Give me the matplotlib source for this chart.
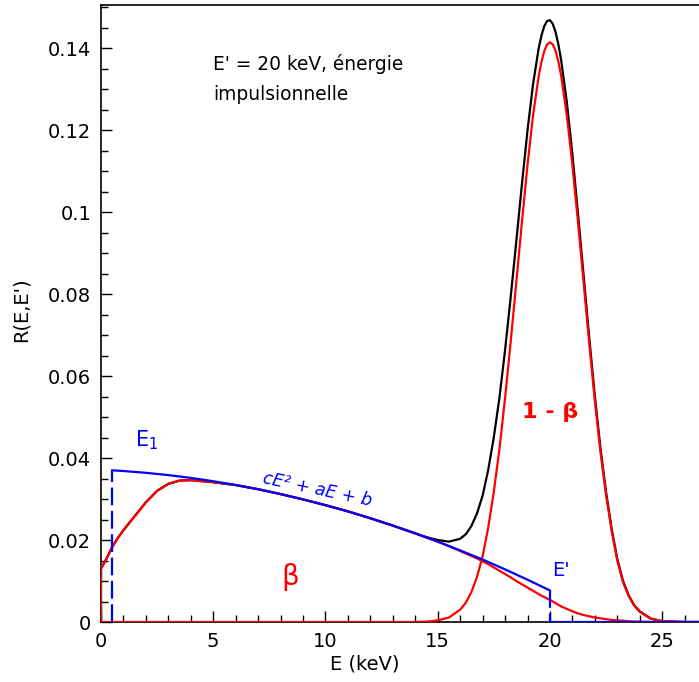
import numpy as np
import matplotlib
matplotlib.use("Agg")
import matplotlib.pyplot as plt
from matplotlib.ticker import MultipleLocator, FuncFormatter

plt.rcParams['font.family'] = ['DejaVu Sans']

# ---- data ----
E = [0, 0, 0.25, 0.5, 0.75, 1, 1.5, 2, 2.5, 3, 3.5, 4,
     5, 6, 7, 8, 9, 10, 11, 12, 13, 14,
     14.5, 15, 15.5, 16,
     16.25, 16.5, 16.75, 17, 17.25, 17.5, 17.75, 18,
     18.25, 18.5, 18.75, 19, 19.25, 19.5, 19.625, 19.75, 19.875, 20,
     20.125, 20.25, 20.375, 20.5, 20.75, 21, 21.25, 21.5, 21.75, 22,
     22.25, 22.5, 22.75, 23, 23.25, 23.5, 23.75, 24,
     24.5, 25, 26, 27]

beta = [0.0, 0.0130, 0.0155, 0.0183, 0.0205, 0.0224, 0.0258, 0.0292, 0.0320, 0.0337, 0.0345, 0.0346,
        0.0341, 0.0334, 0.0324, 0.0312, 0.0299, 0.0285, 0.0270, 0.0253, 0.0235, 0.0216,
        0.0206, 0.0196, 0.0185, 0.0173,
        0.0167, 0.0161, 0.0155, 0.0148, 0.0141, 0.0133, 0.0125, 0.0117,
        0.0109, 0.0100, 0.0092, 0.0084, 0.0076, 0.0068, 0.0064, 0.0061, 0.0057, 0.0054,
        0.0050, 0.0046, 0.0042, 0.0038, 0.0032, 0.0026, 0.0021, 0.0017, 0.0014, 0.0011,
        0.0009, 0.0007, 0.0005, 0.0004, 0.0003, 0.0002, 0.0001, 0.0001,
        0.0, 0.0, 0.0, 0.0]

peak = [0.0, 0.0, 0.0, 0.0, 0.0, 0.0, 0.0, 0.0, 0.0, 0.0, 0.0, 0.0,
        0.0, 0.0, 0.0, 0.0, 0.0, 0.0, 0.0, 0.0, 0.0, 0.0,
        0.0001, 0.0004, 0.0011, 0.0030,
        0.0047, 0.0073, 0.0110, 0.0160, 0.0230, 0.0318, 0.0422, 0.0546,
        0.0683, 0.0828, 0.0975, 0.1115, 0.1237, 0.1332, 0.1367, 0.1393, 0.1409, 0.1414,
        0.1409, 0.1393, 0.1367, 0.1332, 0.1237, 0.1115, 0.0975, 0.0828, 0.0680, 0.0540,
        0.0415, 0.0310, 0.0222, 0.0150, 0.0098, 0.0064, 0.0040, 0.0025,
        0.0008, 0.0002, 0.0, 0.0]

E_fit = [0.5, 1, 2, 3, 4, 5, 6, 7, 8, 9, 10, 11, 12, 13, 14, 15, 16, 17, 18, 19, 20]
fit = [0.0370, 0.03683, 0.03639, 0.03583, 0.03515, 0.03434, 0.03342, 0.03237, 0.03120, 0.02991,
       0.02850, 0.02697, 0.02531, 0.02353, 0.02164, 0.01961, 0.01747, 0.01524, 0.01283, 0.01032,
       0.00769]

E1 = 0.5
Eprime = 20.0
x_max = 26.64
y_max = 0.1505

total = np.array(beta) + np.array(peak)

# ---- figure ----
fig = plt.figure(figsize=(6.99, 6.82), dpi=100)
ax = fig.add_axes([101/699, 60/682, 598/699, 617/682])

lw = 1.6
ax.plot(E, total, color='black', lw=lw, zorder=2)
ax.plot(E, peak, color='red', lw=lw, zorder=3)
ax.plot(E, beta, color='red', lw=lw, zorder=3)

dash = (8, 2.5)
ax.plot([E1, E1], [0, fit[0]], color='blue', lw=lw, dashes=dash, zorder=4)
ax.plot(E_fit, fit, color='blue', lw=lw, zorder=4)
ax.plot([Eprime, Eprime], [fit[-1], 0], color='blue', lw=lw, dashes=dash, zorder=4)
ax.plot([Eprime, x_max], [0, 0], color='blue', lw=lw, zorder=4)

ax.set_xlim(0, x_max)
ax.set_ylim(0, y_max)

ax.spines['right'].set_visible(False)
for s in ['left', 'bottom', 'top']:
    ax.spines[s].set_linewidth(1.2)

ax.xaxis.set_major_locator(MultipleLocator(5))
ax.xaxis.set_minor_locator(MultipleLocator(1))
ax.yaxis.set_major_locator(MultipleLocator(0.02))
ax.yaxis.set_minor_locator(MultipleLocator(0.005))
ax.yaxis.set_major_formatter(FuncFormatter(lambda v, p: '%g' % round(v, 4)))
ax.tick_params(which='both', direction='in', top=False, right=False, labelsize=14, width=1.0)
ax.tick_params(which='major', length=8, pad=7)
ax.tick_params(which='minor', length=5)

ax.set_xlabel("E (keV)", fontsize=14)
ax.set_ylabel("R(E,E')", fontsize=14)
ax.xaxis.set_label_coords(0.441, -0.053)
ax.yaxis.set_label_coords(-0.118, 0.506)

ax.text(213/699, 1 - 70/682, "E' = 20 keV, énergie", transform=fig.transFigure,
        fontsize=13.4, va='baseline', ha='left')
ax.text(213/699, 1 - 100/682, "impulsionnelle", transform=fig.transFigure,
        fontsize=13.4, va='baseline', ha='left')
ax.text(135/699, 1 - 440/682, "E$_1$", transform=fig.transFigure, color='blue',
        fontsize=15, va='center', ha='left')
ax.text(317/699, 1 - 490/682, "cE² + aE + b", transform=fig.transFigure, color='blue',
        fontsize=12.5, va='center', ha='center', rotation=-12, style='italic')
ax.text(290/699, 1 - 577/682, "β", transform=fig.transFigure, color='red',
        fontsize=20, va='center', ha='center')
ax.text(550/699, 1 - 412/682, "1 - β", transform=fig.transFigure, color='red',
        fontsize=16, va='center', ha='center', fontweight='bold')
ax.text(552/699, 1 - 571/682, "E'", transform=fig.transFigure, color='blue',
        fontsize=14, va='center', ha='left')

fig.savefig("out.png", dpi=100)
